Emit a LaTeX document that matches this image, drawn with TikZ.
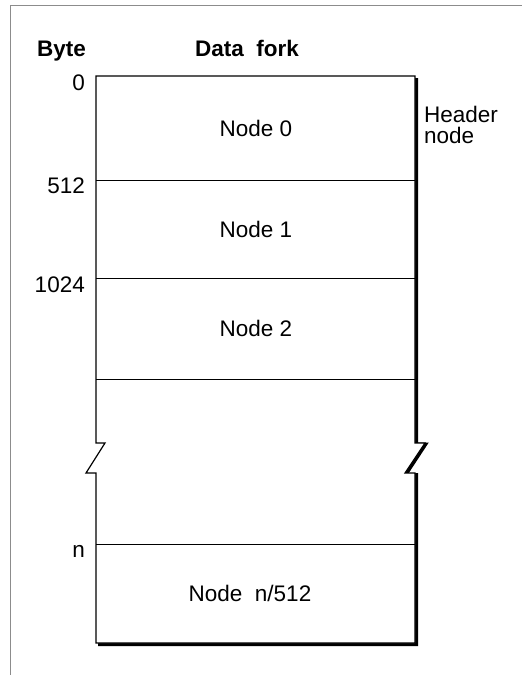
\documentclass[tikz,border=0pt]{standalone}
\usepackage{fontspec}
\setmainfont{Liberation Sans}
\begin{document}
\begin{tikzpicture}[x=1pt,y=-1pt,
  lbl/.style={font=\fontsize{22.5}{26}\selectfont, inner sep=0pt},
  frameline/.style={draw=black!45, line width=1pt},
  boxline/.style={draw=black, line width=1.2pt, line join=miter},
  sepline/.style={draw=black, line width=0.8pt},
  shadowline/.style={draw=black, line width=3pt, line join=miter}]
\useasboundingbox (0,0) rectangle (522,675);
% outer frame
\draw[frameline] (10,675) -- (10,5) -- (522,5);
% shadow
\draw[shadowline] (416.5,78) -- (416.5,444) -- (426,444) -- (406,474.5) -- (416.5,474.5) -- (416.5,644.5) -- (98,644.5);
% main outline
\filldraw[boxline, fill=white] (96,76) -- (415,76) -- (415,443) -- (425,443) -- (405,473) -- (415,473) -- (415,643) -- (96,643) -- (96,473) -- (86,473) -- (105,443) -- (96,443) -- cycle;
% separators
\draw[sepline] (96,180) -- (415,180);
\draw[sepline] (96,278) -- (415,278);
\draw[sepline] (96,379) -- (415,379);
\draw[sepline] (96,544) -- (415,544);
% headings
\node[lbl, anchor=base west] (byte) at (37,56) {\bfseries Byte};
\node[lbl, anchor=base] (fork) at (247,56) {\bfseries Data~~fork};
% byte offsets
\node[lbl, anchor=base east] (b0) at (85,90) {0};
\node[lbl, anchor=base east] (b512) at (85,193) {512};
\node[lbl, anchor=base east] (b1024) at (85,292) {1024};
\node[lbl, anchor=base east] (bn) at (85,557) {n};
% node labels
\node[lbl] (n0) at (256,128) {Node 0};
\node[lbl] (n1) at (256,229) {Node 1};
\node[lbl] (n2) at (256,328) {Node 2};
\node[lbl] (nn) at (250,593) {Node~~n/512};
% header node label
\node[lbl, anchor=base west] (hdr1) at (424,122) {Header};
\node[lbl, anchor=base west] (hdr2) at (424,143) {node};
\end{tikzpicture}
\end{document}
